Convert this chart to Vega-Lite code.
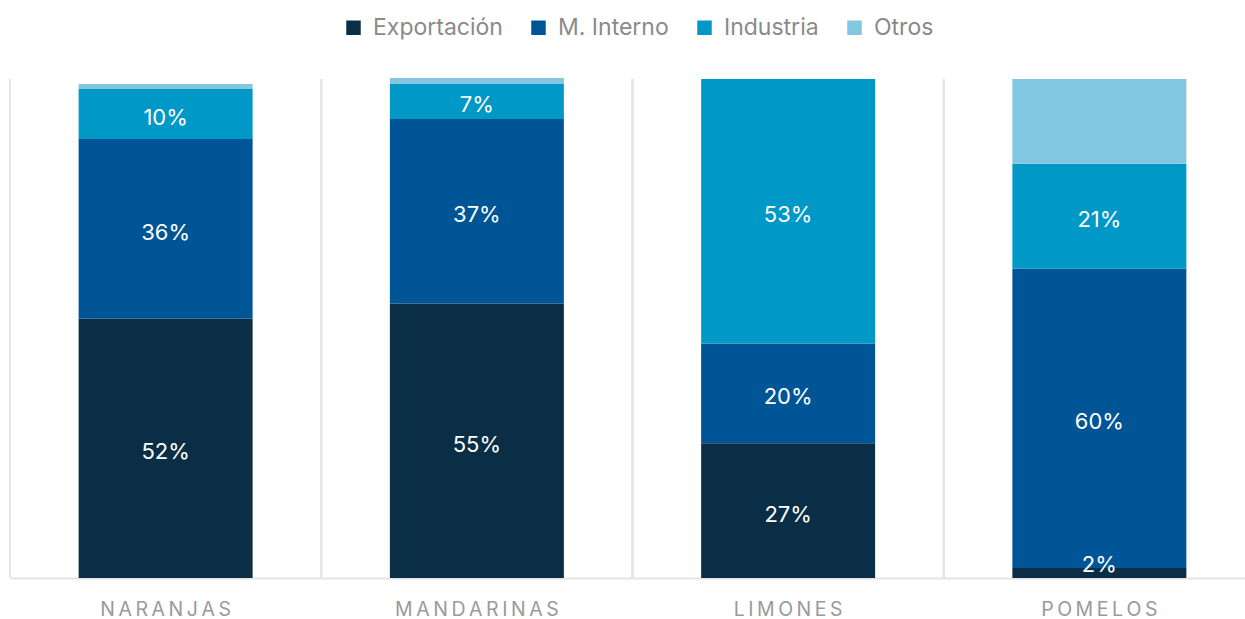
{
  "$schema": "https://vega.github.io/schema/vega-lite/v6.json",
  "autosize": {"type": "none"},
  "width": 1235,
  "height": 499,
  "padding": {"left": 10, "top": 79, "right": 0, "bottom": 41},
  "background": "white",
  "config": {
    "view": {"stroke": null},
    "font": "Inter"
  },
  "data": {
    "values": [
      {"fruta": "NARANJAS", "destino": "Exportación", "orden": 1, "valor": 0.52},
      {"fruta": "NARANJAS", "destino": "M. Interno", "orden": 2, "valor": 0.36},
      {"fruta": "NARANJAS", "destino": "Industria", "orden": 3, "valor": 0.10},
      {"fruta": "NARANJAS", "destino": "Otros", "orden": 4, "valor": 0.01},
      {"fruta": "MANDARINAS", "destino": "Exportación", "orden": 1, "valor": 0.55},
      {"fruta": "MANDARINAS", "destino": "M. Interno", "orden": 2, "valor": 0.37},
      {"fruta": "MANDARINAS", "destino": "Industria", "orden": 3, "valor": 0.07},
      {"fruta": "MANDARINAS", "destino": "Otros", "orden": 4, "valor": 0.012},
      {"fruta": "LIMONES", "destino": "Exportación", "orden": 1, "valor": 0.27},
      {"fruta": "LIMONES", "destino": "M. Interno", "orden": 2, "valor": 0.20},
      {"fruta": "LIMONES", "destino": "Industria", "orden": 3, "valor": 0.53},
      {"fruta": "LIMONES", "destino": "Otros", "orden": 4, "valor": 0.0},
      {"fruta": "POMELOS", "destino": "Exportación", "orden": 1, "valor": 0.02},
      {"fruta": "POMELOS", "destino": "M. Interno", "orden": 2, "valor": 0.60},
      {"fruta": "POMELOS", "destino": "Industria", "orden": 3, "valor": 0.21},
      {"fruta": "POMELOS", "destino": "Otros", "orden": 4, "valor": 0.17}
    ]
  },
  "transform": [
    {"stack": "valor", "groupby": ["fruta"], "sort": [{"field": "orden", "order": "ascending"}], "as": ["y0", "y1"]},
    {"calculate": "max((datum.y0 + datum.y1) / 2, 0.034)", "as": "ymid"}
  ],
  "encoding": {
    "x": {
      "field": "fruta",
      "type": "nominal",
      "sort": ["NARANJAS", "MANDARINAS", "LIMONES", "POMELOS"],
      "scale": {"range": [0, 1245], "paddingInner": 0, "paddingOuter": 0},
      "axis": {
        "title": null,
        "orient": "bottom",
        "labelExpr": "join(split(datum.label, ''), '\u2009')",
        "labelAngle": 0,
        "labelFontSize": 19.5,
        "labelColor": "#9a9a9a",
        "labelPadding": 22,
        "labelLimit": 0,
        "labelFont": "Inter",
        "ticks": false,
        "domainColor": "#e4e4e4",
        "domainWidth": 2,
        "grid": false
      }
    }
  },
  "layer": [
    {
      "mark": {"type": "rule", "color": "#e6e6e6", "strokeWidth": 2},
      "encoding": {
        "x": {"field": "fruta", "type": "nominal", "sort": ["NARANJAS", "MANDARINAS", "LIMONES", "POMELOS"], "bandPosition": 0}
      }
    },
    {
      "mark": {"type": "bar", "width": {"band": 0.559}},
      "encoding": {
        "y": {"field": "y0", "type": "quantitative", "scale": {"domain": [0, 1], "nice": false}, "axis": null},
        "y2": {"field": "y1"},
        "color": {
          "field": "destino",
          "type": "nominal",
          "sort": ["Exportación", "M. Interno", "Industria", "Otros"],
          "scale": {
            "domain": ["Exportación", "M. Interno", "Industria", "Otros"],
            "range": ["#0a2e45", "#005596", "#0098c6", "#82c6e0"]
          },
          "legend": {
            "title": null,
            "orient": "none",
            "direction": "horizontal",
            "legendX": 332,
            "legendY": -63,
            "symbolType": "square",
            "symbolSize": 210,
            "symbolStrokeWidth": 0,
            "symbolOpacity": 1,
            "labelFontSize": 23,
            "labelColor": "#8a8a8a",
            "labelOffset": 8,
            "columnPadding": 24,
            "labelFont": "Inter",
            "padding": 0
          }
        }
      }
    },
    {
      "transform": [{"filter": "datum.destino != 'Otros'"}],
      "mark": {"type": "text", "color": "white", "fontSize": 22, "baseline": "middle", "dy": 4, "font": "Inter"},
      "encoding": {
        "y": {"field": "ymid", "type": "quantitative", "scale": {"domain": [0, 1], "nice": false}},
        "text": {"field": "valor", "type": "quantitative", "format": ".0%"}
      }
    }
  ]
}
